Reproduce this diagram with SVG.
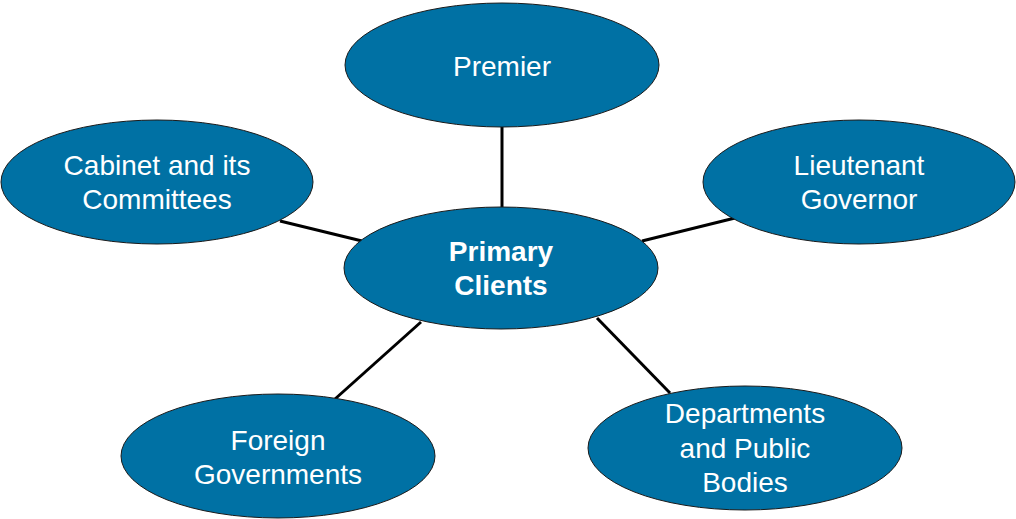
<svg xmlns="http://www.w3.org/2000/svg" width="1016" height="519" viewBox="0 0 1016 519">
  <style>
    .node ellipse { fill: #0071a4; stroke: #1a1a1a; stroke-width: 1; }
    .node text { fill: #ffffff; font-family: "Liberation Sans", Arial, sans-serif; font-size: 28px; text-anchor: middle; }
    .hub text { font-weight: bold; }
    #connectors line { stroke: #000000; stroke-width: 3; }
  </style>
  <rect width="1016" height="519" fill="#ffffff"/>

  <!-- spokes from the hub to each client group -->
  <g id="connectors">
    <line x1="502" y1="126" x2="502" y2="208"/>
    <line x1="280" y1="221" x2="362" y2="241"/>
    <line x1="735" y1="218" x2="642" y2="241"/>
    <line x1="335" y1="399" x2="421" y2="322"/>
    <line x1="670" y1="393" x2="597" y2="318"/>
  </g>

  <g id="premier" class="node">
    <ellipse cx="502" cy="65" rx="157" ry="62"/>
    <text x="502" y="76">Premier</text>
  </g>

  <g id="cabinet" class="node">
    <ellipse cx="157" cy="182" rx="156" ry="62"/>
    <text x="157" y="175">Cabinet and its</text>
    <text x="157" y="209">Committees</text>
  </g>

  <g id="lieutenant-governor" class="node">
    <ellipse cx="859" cy="182" rx="156" ry="62"/>
    <text x="859" y="175">Lieutenant</text>
    <text x="859" y="209">Governor</text>
  </g>

  <g id="primary-clients" class="node hub">
    <ellipse cx="501" cy="268" rx="157" ry="61"/>
    <text x="501" y="261">Primary</text>
    <text x="501" y="295">Clients</text>
  </g>

  <g id="foreign-governments" class="node">
    <ellipse cx="278" cy="456" rx="157" ry="62"/>
    <text x="278" y="450">Foreign</text>
    <text x="278" y="484">Governments</text>
  </g>

  <g id="departments" class="node">
    <ellipse cx="745" cy="448" rx="157" ry="62"/>
    <text x="745" y="423">Departments</text>
    <text x="745" y="458">and Public</text>
    <text x="745" y="492">Bodies</text>
  </g>
</svg>
